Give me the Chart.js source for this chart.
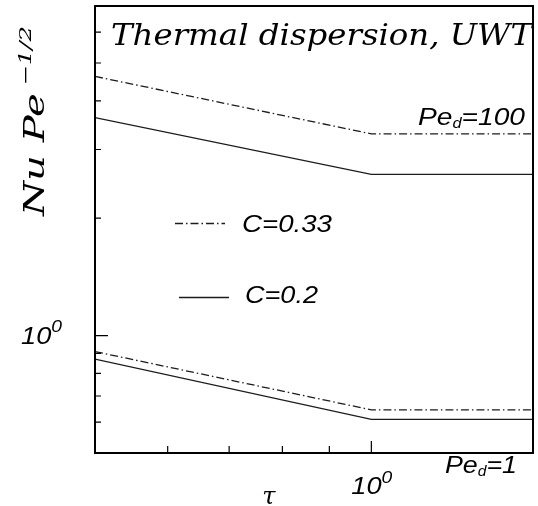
<!DOCTYPE html>
<html><head><meta charset="utf-8">
<script src="https://cdn.jsdelivr.net/npm/chart.js@4/dist/chart.umd.min.js"></script>
<style>html,body{margin:0;padding:0;background:#fff;}canvas{display:block;}</style>
</head><body>
<canvas id="c" width="538" height="506"></canvas>
<script>
// ---- data (log-log axes) ----
const tau = [0.5, 1.0, 1.5];
const pe100C033 = [4.62, 3.29, 3.29];
const pe100C02  = [3.62, 2.59, 2.59];
const pe1C033   = [0.91, 0.645, 0.645];
const pe1C02    = [0.87, 0.61, 0.61];

const xRange = [0.5, 1.5];
const yRange = [0.5, 7];
const xMinorTicks = [0.6, 0.7, 0.8, 0.9];
const xMajorTicks = [1];
const yMinorTicks = [0.6, 0.7, 0.8, 0.9, 2, 3, 4, 5, 6];
const yMajorTicks = [1];
const tickBase = '10';
const tickExp = '0';

const titleText = 'Thermal dispersion, UWT';
const yTitle = 'Nu Pe';
const yTitleExp = '\u22121/2';
const xTitle = '\u03C4';
const seriesLabels = ['C=0.33', 'C=0.2'];

const pts = (xs, ys) => xs.map((x, i) => ({x: x, y: ys[i]}));
const dashDot = [8, 3, 1.5, 3];
const lineColor = '#1c1c1c';

function runs(ctx, parts, x, y, targetW) {
  let total = 0;
  for (const r of parts) { ctx.font = r.font; r.w = ctx.measureText(r.text).width; total += r.w; }
  const s = targetW ? targetW / total : 1;
  ctx.save();
  ctx.translate(x, y);
  ctx.scale(s, 1);
  let cx = 0;
  for (const r of parts) { ctx.font = r.font; ctx.fillText(r.text, cx, r.dy || 0); cx += r.w; }
  ctx.restore();
}

const decor = {
  id: 'decor',
  afterDraw(chart) {
    const ctx = chart.ctx;
    const a = chart.chartArea;
    const xs = chart.scales.x, ys = chart.scales.y;
    ctx.save();
    ctx.strokeStyle = '#000';
    ctx.fillStyle = '#000';
    // frame
    ctx.lineWidth = 2;
    ctx.strokeRect(a.left, a.top, a.right - a.left, a.bottom - a.top);
    // ticks inside
    ctx.lineWidth = 1.2;
    ctx.beginPath();
    xMinorTicks.forEach(v => { const p = xs.getPixelForValue(v); ctx.moveTo(p, a.bottom); ctx.lineTo(p, a.bottom - 7); });
    xMajorTicks.forEach(v => { const p = xs.getPixelForValue(v); ctx.moveTo(p, a.bottom); ctx.lineTo(p, a.bottom - 12); });
    yMinorTicks.forEach(v => { const p = ys.getPixelForValue(v); ctx.moveTo(a.left, p); ctx.lineTo(a.left + 6, p); });
    yMajorTicks.forEach(v => { const p = ys.getPixelForValue(v); ctx.moveTo(a.left, p); ctx.lineTo(a.left + 13, p); });
    ctx.stroke();
    ctx.textBaseline = 'alphabetic';
    ctx.textAlign = 'left';
    // tick labels 10^0
    xMajorTicks.forEach(v => {
      const p = xs.getPixelForValue(v);
      runs(ctx, [{text: tickBase, font: 'italic 24px "Liberation Sans"'},
                 {text: tickExp, font: 'italic 17px "Liberation Sans"', dy: -11}], p - 20, a.bottom + 41, 41);
    });
    yMajorTicks.forEach(v => {
      const p = ys.getPixelForValue(v);
      runs(ctx, [{text: tickBase, font: 'italic 24px "Liberation Sans"'},
                 {text: tickExp, font: 'italic 17px "Liberation Sans"', dy: -12}], 21, p + 8, 41);
    });
    // title inside plot
    runs(ctx, [{text: titleText, font: 'italic 30px "DejaVu Serif"'}], 111, 45, 421);
    // y title (rotated)
    ctx.save();
    ctx.translate(44, 216);
    ctx.rotate(-Math.PI / 2);
    runs(ctx, [{text: yTitle, font: 'italic 28px "DejaVu Serif"'},
               {text: ' ' + yTitleExp, font: 'italic 17px "DejaVu Serif"', dy: -13}], 0, 0, 190);
    ctx.restore();
    // x title
    ctx.font = 'italic 24px "DejaVu Serif"';
    ctx.textAlign = 'center';
    ctx.fillText(xTitle, 269, 504);
    ctx.textAlign = 'left';
    // curve labels
    runs(ctx, [{text: 'Pe', font: 'italic 24px "Liberation Sans"'},
               {text: 'd', font: 'italic 14px "Liberation Sans"', dy: 3},
               {text: '=100', font: 'italic 24px "Liberation Sans"'}], 418, 125, 107);
    runs(ctx, [{text: 'Pe', font: 'italic 24px "Liberation Sans"'},
               {text: 'd', font: 'italic 14px "Liberation Sans"', dy: 3},
               {text: '=1', font: 'italic 24px "Liberation Sans"'}], 445, 473, 72);
    // legend
    ctx.strokeStyle = lineColor;
    ctx.lineWidth = 1.3;
    ctx.setLineDash(dashDot);
    ctx.beginPath(); ctx.moveTo(175, 223.5); ctx.lineTo(225, 223.5); ctx.stroke();
    ctx.setLineDash([]);
    ctx.beginPath(); ctx.moveTo(179, 297.5); ctx.lineTo(229, 297.5); ctx.stroke();
    runs(ctx, [{text: seriesLabels[0], font: 'italic 24px "Liberation Sans"'}], 242, 232, 90);
    runs(ctx, [{text: seriesLabels[1], font: 'italic 24px "Liberation Sans"'}], 245, 303, 73);
    ctx.restore();
  }
};

const ds = (label, ys, dash) => ({
  label: label,
  data: pts(tau, ys),
  showLine: true,
  borderColor: lineColor,
  borderWidth: 1.3,
  borderDash: dash,
  pointRadius: 0,
  fill: false,
  tension: 0
});

new Chart(document.getElementById('c'), {
  type: 'scatter',
  data: {
    datasets: [
      ds('C=0.33, Pe_d=100', pe100C033, dashDot),
      ds('C=0.2, Pe_d=100', pe100C02, []),
      ds('C=0.33, Pe_d=1', pe1C033, dashDot),
      ds('C=0.2, Pe_d=1', pe1C02, [])
    ]
  },
  options: {
    responsive: false,
    animation: false,
    layout: {padding: {left: 95, top: 6, right: 5, bottom: 53}},
    plugins: {legend: {display: false}, tooltip: {enabled: false}},
    scales: {
      x: {type: 'logarithmic', min: xRange[0], max: xRange[1], display: false},
      y: {type: 'logarithmic', min: yRange[0], max: yRange[1], display: false}
    }
  },
  plugins: [decor]
});
</script>
</body></html>
